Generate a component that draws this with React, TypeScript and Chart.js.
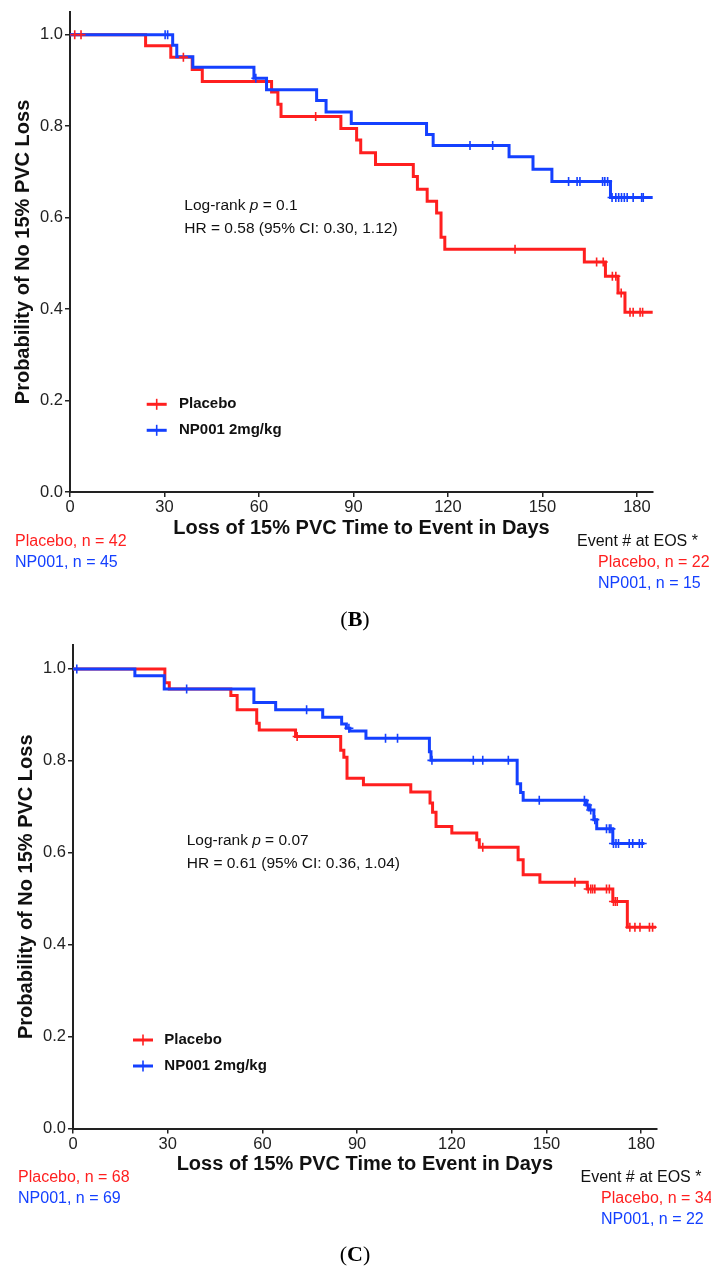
import React, { useEffect, useRef } from "react";
import { Chart, registerables } from "chart.js";

Chart.register(...registerables);

const RED = "#ff1f1f";
const BLUE = "#1440ff";
const FAMILY = '"Liberation Sans", Arial, Helvetica, sans-serif';

// ---------- shared axis ticks ----------
const xTickValues = [0, 30, 60, 90, 120, 150, 180];
const yTickValues = [0, 0.2, 0.4, 0.6, 0.8, 1.0];
const xTitle = "Loss of 15% PVC Time to Event in Days";
const yTitle = "Probability of No 15% PVC Loss";
const seriesLabels = ["Placebo", "NP001 2mg/kg"];

// ---------- Panel B ----------
const bPlaceboTimes = [0, 24, 32, 38.8, 42, 64, 66, 67, 86, 91, 92.3, 97, 109, 110.3, 113.4, 116.4, 117.8, 119, 163.3, 170, 174, 176.2, 185];
const bPlaceboSurv = [1.0, 0.976, 0.951, 0.924, 0.898, 0.875, 0.848, 0.821, 0.795, 0.77, 0.742, 0.716, 0.69, 0.662, 0.636, 0.61, 0.557, 0.531, 0.503, 0.472, 0.435, 0.393, 0.393];
const bPlaceboCensor = [1.5, 3.5, 36, 78, 141.3, 167.2, 169.3, 172.2, 173.3, 175, 177.8, 178.8, 181, 181.8];

const bNpTimes = [0, 32.6, 33.9, 39, 58.4, 62.4, 78.3, 81.3, 89.3, 113.2, 115.3, 139.4, 147, 153, 171.6, 185];
const bNpSurv = [1.0, 0.977, 0.952, 0.929, 0.905, 0.88, 0.856, 0.831, 0.806, 0.782, 0.758, 0.733, 0.706, 0.679, 0.644, 0.644];
const bNpCensor = [30.2, 31, 59, 127, 134.2, 158.3, 161, 161.9, 169.1, 169.8, 170.7, 172.1, 173.3, 174.2, 175.1, 176, 176.9, 178.8, 181.5, 182];

const bStats = { p: "0.1", hr: "HR = 0.58 (95% CI: 0.30, 1.12)" };
const bN = { placebo: "Placebo, n = 42", np: "NP001, n = 45" };
const bEvents = { placebo: "Placebo, n = 22", np: "NP001, n = 15" };

// ---------- Panel C ----------
const cPlaceboTimes = [0, 29.1, 30.5, 50, 52, 58.2, 59, 70.5, 84.8, 85.8, 86.8, 92, 107, 113.1, 113.9, 115, 120, 127.9, 128.7, 141, 142.6, 147.9, 162.9, 171, 175.6, 184.7];
const cPlaceboSurv = [1.0, 0.97, 0.956, 0.942, 0.911, 0.882, 0.867, 0.853, 0.823, 0.808, 0.762, 0.748, 0.732, 0.708, 0.688, 0.657, 0.643, 0.628, 0.612, 0.585, 0.552, 0.536, 0.521, 0.494, 0.438, 0.438];
const cPlaceboCensor = [71, 129.8, 159, 163.2, 164, 164.6, 165.3, 169, 169.9, 171.2, 171.8, 172.4, 176.4, 178, 179.6, 182.6, 183.6];

const cNpTimes = [0, 19.6, 28.9, 57.3, 64.2, 79.1, 85.1, 86.6, 87.7, 92.8, 112.9, 113.4, 140.7, 141.8, 142.6, 162.5, 163.5, 165, 165.9, 171, 181];
const cNpSurv = [1.0, 0.985, 0.956, 0.927, 0.911, 0.895, 0.88, 0.871, 0.865, 0.849, 0.82, 0.801, 0.75, 0.731, 0.714, 0.704, 0.693, 0.672, 0.652, 0.62, 0.62];
const cNpCensor = [1.2, 36, 74, 87.4, 99, 102.8, 113.7, 126.8, 129.8, 137.9, 147.7, 162, 163, 164, 165.3, 169, 169.9, 170.4, 171.2, 172, 172.8, 176.2, 177.3, 179.4, 180.3];

const cStats = { p: "0.07", hr: "HR = 0.61 (95% CI: 0.36, 1.04)" };
const cN = { placebo: "Placebo, n = 68", np: "NP001, n = 69" };
const cEvents = { placebo: "Placebo, n = 34", np: "NP001, n = 22" };

// ---------- helpers ----------
function survAt(times: number[], surv: number[], t: number) {
  let s = surv[0];
  for (let i = 0; i < times.length; i++) if (times[i] <= t) s = surv[i];
  return s;
}
function stepPoints(times: number[], surv: number[]) {
  return times.map((t, i) => ({ x: t, y: surv[i] }));
}
function censorPoints(times: number[], surv: number[], cens: number[]) {
  return cens.map((t) => ({ x: t, y: survAt(times, surv, t) }));
}

type Layout = {
  canvasTop: number;
  canvasHeight: number;
  left: number;
  right: number;
  top: number;
  bottom: number;
  xMax: number;
  yMax: number;
  yTitlePad: number;
  statX: number;
  statY: number;
  legX: number;
  legTextX: number;
  legY: number;
  nX: number;
  nY: number;
  evX: number;
  evSubX: number;
  evY: number;
  caption: string;
  captionY: number;
};

type PanelData = {
  pT: number[]; pS: number[]; pC: number[];
  nT: number[]; nS: number[]; nC: number[];
  stats: { p: string; hr: string };
  n: { placebo: string; np: string };
  ev: { placebo: string; np: string };
};

const annotPlugin = {
  id: "kmAnnot",
  afterDraw(chart: any, _args: any, opts: any) {
    const ctx: CanvasRenderingContext2D = chart.ctx;
    const L: Layout = opts.layout;
    const D: PanelData = opts.data;
    ctx.save();
    ctx.textBaseline = "middle";
    ctx.textAlign = "left";

    // stats
    const normal = `15.5px ${FAMILY}`;
    ctx.fillStyle = "#111";
    ctx.font = normal;
    let x = L.statX;
    ctx.fillText("Log-rank ", x, L.statY);
    x += ctx.measureText("Log-rank ").width;
    ctx.font = `italic 15.5px ${FAMILY}`;
    ctx.fillText("p", x, L.statY);
    x += ctx.measureText("p").width;
    ctx.font = normal;
    ctx.fillText(" = " + D.stats.p, x, L.statY);
    ctx.fillText(D.stats.hr, L.statX, L.statY + 23);

    // legend
    const ds = chart.data.datasets;
    [0, 1].forEach((i) => {
      const y = L.legY + i * 26;
      const col = ds[i].borderColor;
      ctx.strokeStyle = col;
      ctx.lineWidth = 3;
      ctx.beginPath();
      ctx.moveTo(L.legX - 10, y);
      ctx.lineTo(L.legX + 10, y);
      ctx.stroke();
      ctx.lineWidth = 1.6;
      ctx.beginPath();
      ctx.moveTo(L.legX, y - 5.5);
      ctx.lineTo(L.legX, y + 5.5);
      ctx.stroke();
      ctx.fillStyle = "#111";
      ctx.font = `bold 15px ${FAMILY}`;
      ctx.fillText(ds[i].label, L.legTextX, y);
    });

    // n labels
    ctx.font = `16px ${FAMILY}`;
    ctx.fillStyle = RED;
    ctx.fillText(D.n.placebo, L.nX, L.nY);
    ctx.fillStyle = BLUE;
    ctx.fillText(D.n.np, L.nX, L.nY + 21);

    // events at EOS
    ctx.fillStyle = "#111";
    ctx.fillText("Event # at EOS *", L.evX, L.evY);
    ctx.fillStyle = RED;
    ctx.fillText(D.ev.placebo, L.evSubX, L.evY + 21);
    ctx.fillStyle = BLUE;
    ctx.fillText(D.ev.np, L.evSubX, L.evY + 41.5);

    // caption
    ctx.fillStyle = "#000";
    const serif = '"Liberation Serif", "DejaVu Serif", serif';
    ctx.font = `22px ${serif}`;
    const wo = ctx.measureText("(").width;
    const wc = ctx.measureText(")").width;
    ctx.font = `bold 22px ${serif}`;
    const wl = ctx.measureText(L.caption).width;
    let cx = 355 - (wo + wl + wc) / 2;
    ctx.font = `22px ${serif}`;
    ctx.fillText("(", cx, L.captionY);
    cx += wo;
    ctx.font = `bold 22px ${serif}`;
    ctx.fillText(L.caption, cx, L.captionY);
    cx += wl;
    ctx.font = `22px ${serif}`;
    ctx.fillText(")", cx, L.captionY);
    ctx.restore();
  },
};

function makeConfig(D: PanelData, L: Layout, width: number): any {
  const lineDs = (label: string, data: any[], color: string, order: number) => ({
    label,
    data,
    borderColor: color,
    backgroundColor: color,
    borderWidth: 3,
    stepped: true,
    pointRadius: 0,
    fill: false,
    borderJoinStyle: "miter",
    borderCapStyle: "butt",
    order,
  });
  const censDs = (label: string, data: any[], color: string, order: number) => ({
    label,
    data,
    showLine: false,
    pointStyle: "cross",
    pointRadius: 4.5,
    pointBorderWidth: 1.6,
    pointBorderColor: color,
    pointBackgroundColor: color,
    borderColor: color,
    order,
  });
  return {
    type: "line",
    data: {
      datasets: [
        lineDs(seriesLabels[0], stepPoints(D.pT, D.pS), RED, 3),
        lineDs(seriesLabels[1], stepPoints(D.nT, D.nS), BLUE, 2),
        censDs(seriesLabels[0] + " censored", censorPoints(D.pT, D.pS, D.pC), RED, 1),
        censDs(seriesLabels[1] + " censored", censorPoints(D.nT, D.nS, D.nC), BLUE, 0),
      ],
    },
    options: {
      animation: false,
      responsive: false,
      maintainAspectRatio: false,
      layout: {
        padding: {
          left: 0,
          top: L.top,
          right: width - L.right,
          bottom: L.canvasHeight - L.bottom - 48,
        },
      },
      elements: { line: { tension: 0 } },
      plugins: {
        legend: { display: false },
        tooltip: { enabled: false },
        kmAnnot: { layout: L, data: D },
      },
      scales: {
        x: {
          type: "linear",
          min: 0,
          max: L.xMax,
          afterBuildTicks: (s: any) => {
            s.ticks = xTickValues.map((v) => ({ value: v }));
          },
          afterFit: (s: any) => {
            s.height = 48;
          },
          ticks: {
            font: { size: 16.5, family: FAMILY },
            color: "#222",
            padding: 1,
            maxRotation: 0,
            callback: (v: any) => String(v),
          },
          grid: { drawOnChartArea: false, drawTicks: true, tickLength: 5, color: "#222", lineWidth: 1.5 },
          border: { display: true, color: "#222", width: 2 },
          title: {
            display: true,
            text: xTitle,
            color: "#111",
            font: { size: 20, weight: "bold", family: FAMILY, lineHeight: 1.2 },
            padding: { top: 0, bottom: 0 },
          },
        },
        y: {
          type: "linear",
          min: 0,
          max: L.yMax,
          afterBuildTicks: (s: any) => {
            s.ticks = yTickValues.map((v) => ({ value: v }));
          },
          afterFit: (s: any) => {
            s.width = L.left;
          },
          ticks: {
            font: { size: 16.5, family: FAMILY },
            color: "#222",
            padding: 2,
            callback: (v: any) => Number(v).toFixed(1),
          },
          grid: { drawOnChartArea: false, drawTicks: true, tickLength: 5, color: "#222", lineWidth: 1.5 },
          border: { display: true, color: "#222", width: 2 },
          title: {
            display: true,
            text: yTitle,
            color: "#111",
            font: { size: 20, weight: "bold", family: FAMILY, lineHeight: 1.2 },
            padding: { top: L.yTitlePad, bottom: 0 },
          },
        },
      },
    },
    plugins: [annotPlugin],
  };
}

const layoutB: Layout = {
  canvasTop: 0, canvasHeight: 632,
  left: 70, right: 653, top: 10, bottom: 492,
  xMax: 185.1, yMax: 1.05, yTitlePad: 11.3,
  statX: 184.3, statY: 206,
  legX: 156.7, legTextX: 179, legY: 404.3,
  nX: 15, nY: 541.7,
  evX: 577, evSubX: 598, evY: 541.7,
  caption: "B", captionY: 620,
};

const layoutC: Layout = {
  canvasTop: 632, canvasHeight: 635,
  left: 73, right: 656.7, top: 13, bottom: 496.5,
  xMax: 184.9, yMax: 1.052, yTitlePad: 14,
  statX: 186.7, statY: 209,
  legX: 143, legTextX: 164.3, legY: 408,
  nX: 18, nY: 545.7,
  evX: 580.5, evSubX: 601, evY: 545.7,
  caption: "C", captionY: 623,
};

const dataB: PanelData = {
  pT: bPlaceboTimes, pS: bPlaceboSurv, pC: bPlaceboCensor,
  nT: bNpTimes, nS: bNpSurv, nC: bNpCensor,
  stats: bStats, n: bN, ev: bEvents,
};
const dataC: PanelData = {
  pT: cPlaceboTimes, pS: cPlaceboSurv, pC: cPlaceboCensor,
  nT: cNpTimes, nS: cNpSurv, nC: cNpCensor,
  stats: cStats, n: cN, ev: cEvents,
};

function KMPanel({ data, layout }: { data: PanelData; layout: Layout }) {
  const ref = useRef<HTMLCanvasElement | null>(null);
  useEffect(() => {
    if (!ref.current) return;
    const chart = new Chart(ref.current, makeConfig(data, layout, 711));
    return () => chart.destroy();
  }, [data, layout]);
  return (
    <canvas
      ref={ref}
      width={711}
      height={layout.canvasHeight}
      style={{ position: "absolute", left: 0, top: layout.canvasTop, width: 711, height: layout.canvasHeight }}
    />
  );
}

export default function App() {
  return (
    <div style={{ position: "absolute", left: 0, top: 0, width: 711, height: 1267, background: "#fff" }}>
      <KMPanel data={dataB} layout={layoutB} />
      <KMPanel data={dataC} layout={layoutC} />
    </div>
  );
}
